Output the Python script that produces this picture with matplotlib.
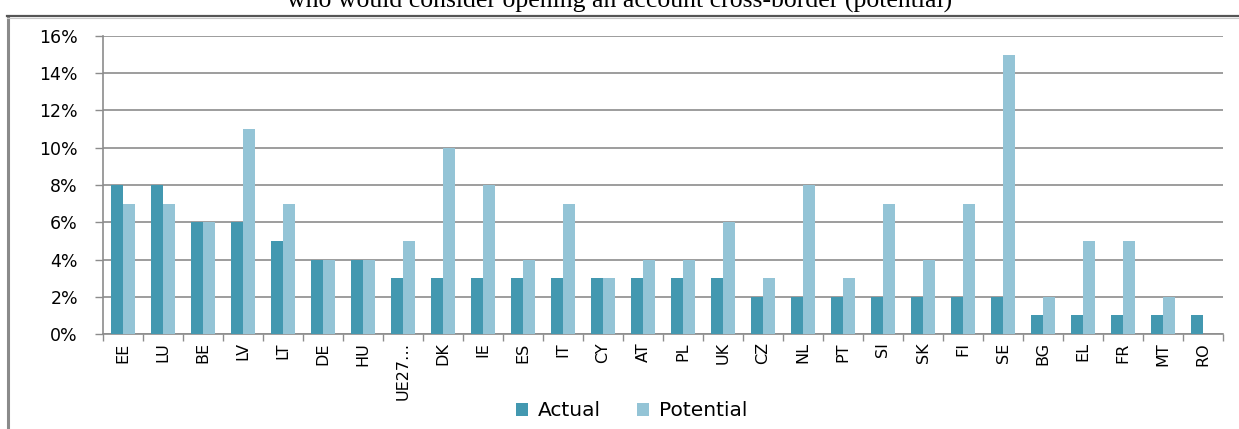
import matplotlib
matplotlib.use('Agg')
import matplotlib.pyplot as plt
import numpy as np
from matplotlib.lines import Line2D
from matplotlib.ticker import FuncFormatter

countries = ['EE', 'LU', 'BE', 'LV', 'LT', 'DE', 'HU', 'UE27…', 'DK', 'IE', 'ES', 'IT', 'CY', 'AT',
             'PL', 'UK', 'CZ', 'NL', 'PT', 'SI', 'SK', 'FI', 'SE', 'BG', 'EL', 'FR', 'MT', 'RO']
actual = [8, 8, 6, 6, 5, 4, 4, 3, 3, 3, 3, 3, 3, 3, 3, 3, 2, 2, 2, 2, 2, 2, 2, 1, 1, 1, 1, 1]
potential = [7, 7, 6, 11, 7, 4, 4, 5, 10, 8, 4, 7, 3, 4, 4, 6, 3, 8, 3, 7, 4, 7, 15, 2, 5, 5, 2, 0]
yticks = [0, 2, 4, 6, 8, 10, 12, 14, 16]

c_actual = '#4398b0'
c_potential = '#94c4d6'
grid_c = '#8c8c8c'

fig = plt.figure(figsize=(12.39, 4.29), dpi=100)
ax = fig.add_axes([0.0831, 0.2214, 0.9040, 0.6947])

x = np.arange(len(countries))
w = 0.31
ax.bar(x - w / 2, actual, w, color=c_actual, label='Actual', zorder=3)
ax.bar(x + w / 2, potential, w, color=c_potential, label='Potential', zorder=3)

ax.set_xlim(-0.5, len(countries) - 0.5)
ax.set_ylim(0, 16)
ax.set_yticks(yticks)
ax.yaxis.set_major_formatter(FuncFormatter(lambda v, p: '%d%%' % v))
ax.grid(axis='y', color=grid_c, linewidth=1.2, zorder=0)

# category labels, tick marks between categories
ax.set_xticks(x)
ax.set_xticklabels(countries, rotation=90, fontsize=11.5)
ax.set_xticks(np.arange(-0.5, len(countries)), minor=True)
ax.tick_params(axis='x', which='major', length=0, pad=6)
ax.tick_params(axis='x', which='minor', length=5, color=grid_c, width=1)
ax.tick_params(axis='y', length=6, color=grid_c, width=1, labelsize=12.5, pad=12)

for s in ['top', 'right']:
    ax.spines[s].set_visible(False)
ax.spines['left'].set_color(grid_c)
ax.spines['bottom'].set_color(grid_c)
ax.spines['left'].set_linewidth(1.2)
ax.spines['bottom'].set_linewidth(1.2)

leg = fig.legend(loc='center', bbox_to_anchor=(0.51, 0.042), ncol=2, frameon=False,
                 fontsize=14.5, handlelength=0.6, handleheight=0.6, columnspacing=1.8,
                 handletextpad=0.5)

# chart frame (left and top edges)
fig.add_artist(Line2D([0.0068, 0.0068], [0.0, 0.963], color='#8a8a8a', linewidth=2.2,
                      transform=fig.transFigure))
fig.add_artist(Line2D([0.0060, 1.0], [0.963, 0.963], color='#555555', linewidth=1.6,
                      transform=fig.transFigure))
fig.add_artist(Line2D([0.0060, 1.0], [0.957, 0.957], color='#c8c8c8', linewidth=0.8,
                      transform=fig.transFigure))

# title sits partly above the picture edge, as in the source
fig.text(0.5, 1 - 8 / 429, 'who would consider opening an account cross-border (potential)',
         ha='center', va='baseline', family='Liberation Serif', fontsize=18.5)

fig.savefig('out.png', dpi=100)
